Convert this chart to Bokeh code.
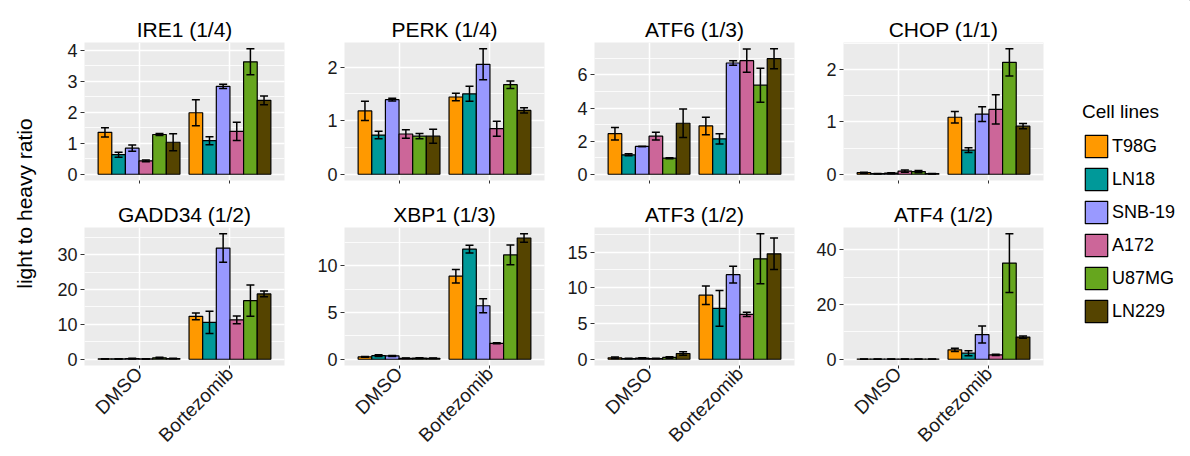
from math import pi
from bokeh.plotting import figure
from bokeh.models import (Range1d, FixedTicker, SingleIntervalTicker, Whisker, TeeHead,
                          ColumnDataSource, Legend, LegendItem, Label)
from bokeh.layouts import row, column
from bokeh.embed import file_html
from bokeh.resources import INLINE

conditions = ["DMSO", "Bortezomib"]
cell_lines = ["T98G", "LN18", "SNB-19", "A172", "U87MG", "LN229"]
colors = ["#FF9900", "#009999", "#9999FF", "#CC6699", "#66A61E", "#554400"]

titles = ["IRE1 (1/4)", "PERK (1/4)", "ATF6 (1/3)", "CHOP (1/1)",
          "GADD34 (1/2)", "XBP1 (1/3)", "ATF3 (1/2)", "ATF4 (1/2)"]
tick_steps = [1, 1, 2, 1, 10, 5, 5, 20]

# each list: DMSO (6 cell lines) then Bortezomib (6 cell lines)
ire1_mean = [1.35, 0.63, 0.84, 0.43, 1.28, 1.03, 1.98, 1.08, 2.83, 1.38, 3.62, 2.38]
ire1_err = [0.15, 0.08, 0.10, 0.03, 0.03, 0.27, 0.42, 0.13, 0.07, 0.29, 0.42, 0.14]
perk_mean = [1.18, 0.73, 1.39, 0.75, 0.71, 0.71, 1.44, 1.50, 2.05, 0.85, 1.67, 1.19]
perk_err = [0.18, 0.07, 0.025, 0.08, 0.05, 0.13, 0.07, 0.14, 0.29, 0.14, 0.07, 0.05]
atf6_mean = [2.45, 1.17, 1.68, 2.30, 0.97, 3.08, 2.92, 2.14, 6.72, 6.86, 5.38, 6.98]
atf6_err = [0.38, 0.06, 0.0, 0.23, 0.03, 0.86, 0.53, 0.31, 0.14, 0.70, 1.03, 0.60]
chop_mean = [0.03, 0.01, 0.02, 0.06, 0.05, 0.01, 1.09, 0.46, 1.15, 1.24, 2.14, 0.92]
chop_err = [0.01, 0.005, 0.01, 0.02, 0.02, 0.005, 0.11, 0.045, 0.14, 0.28, 0.26, 0.05]
gadd34_mean = [0.1, 0.1, 0.2, 0.1, 0.4, 0.2, 12.3, 10.6, 31.9, 11.3, 16.8, 18.75]
gadd34_err = [0.05, 0.05, 0.1, 0.05, 0.15, 0.05, 1.0, 3.2, 4.1, 1.1, 4.5, 0.8]
xbp1_mean = [0.25, 0.38, 0.35, 0.10, 0.12, 0.10, 8.88, 11.78, 5.72, 1.70, 11.16, 12.97]
xbp1_err = [0.05, 0.1, 0.05, 0.02, 0.03, 0.02, 0.72, 0.42, 0.76, 0.05, 1.05, 0.45]
atf3_mean = [0.20, 0.10, 0.15, 0.10, 0.25, 0.80, 8.96, 7.12, 11.84, 6.27, 14.06, 14.76]
atf3_err = [0.1, 0.05, 0.05, 0.05, 0.1, 0.25, 1.3, 2.5, 1.16, 0.3, 3.5, 2.2]
atf4_mean = [0.05, 0.05, 0.05, 0.05, 0.05, 0.05, 3.45, 2.2, 9.0, 1.6, 35.1, 8.1]
atf4_err = [0.02, 0.02, 0.02, 0.02, 0.02, 0.02, 0.6, 0.9, 3.1, 0.2, 10.7, 0.4]

means = [ire1_mean, perk_mean, atf6_mean, chop_mean, gadd34_mean, xbp1_mean, atf3_mean, atf4_mean]
errs = [ire1_err, perk_err, atf6_err, chop_err, gadd34_err, xbp1_err, atf3_err, atf4_err]

FONT = "Liberation Sans"
BAR_W = 0.15
FRAME_W, FRAME_H = 200, 138
LEFTS = [41, 40, 40, 40]
RIGHTS = [20, 10, 9, 10]
TOTAL_W, TOTAL_H = 1190, 456
YLAB_W = 43


def make_panel(k, bottom_row):
    mean, err = means[k], errs[k]
    n = len(cell_lines)
    xs = [c + 1 + (j - (n - 1) / 2) * BAR_W for c in range(len(conditions)) for j in range(n)]
    top_val = max(m + e for m, e in zip(mean, err))
    L, R = LEFTS[k % 4], RIGHTS[k % 4]
    T, B = (42, 10) if not bottom_row else (37, 91)
    fig = figure(width=L + FRAME_W + R, height=T + FRAME_H + B,
                 x_range=Range1d(0.4, len(conditions) + 0.6),
                 y_range=Range1d(-0.05 * top_val, 1.05 * top_val),
                 min_border_left=L, min_border_right=R, min_border_top=T, min_border_bottom=B,
                 output_backend="svg", toolbar_location=None)
    fig.background_fill_color = "#EBEBEB"
    fig.border_fill_color = "white"
    fig.outline_line_color = None

    fig.title.text = titles[k]
    fig.title.align = "center"
    fig.title.text_font = FONT
    fig.title.text_font_size = "21px"
    fig.title.text_font_style = "normal"
    fig.title.text_color = "black"
    fig.title.standoff = 4

    xt = [i + 1 for i in range(len(conditions))]
    fig.xaxis.ticker = FixedTicker(ticks=xt)
    if bottom_row:
        fig.xaxis.major_label_overrides = {t: c for t, c in zip(xt, conditions)}
    else:
        fig.xaxis.major_label_overrides = {t: "" for t in xt}
    fig.xaxis.major_label_orientation = pi / 4
    fig.yaxis.ticker = SingleIntervalTicker(interval=tick_steps[k], num_minor_ticks=2)
    for ax in (fig.xaxis, fig.yaxis):
        ax.axis_line_color = None
        ax.major_tick_in = 0
        ax.major_tick_out = 4
        ax.major_tick_line_color = "#333333"
        ax.minor_tick_line_color = None
        ax.major_label_text_font = FONT
        ax.major_label_text_color = "#1a1a1a"
        ax.major_label_standoff = 3
    fig.xaxis.major_tick_out = 3
    fig.xaxis.major_label_standoff = 2
    fig.yaxis.major_label_text_font_size = "18px"
    fig.xaxis.major_label_text_font_size = "19px"

    fig.xgrid.grid_line_color = "white"
    fig.xgrid.grid_line_width = 1.5
    fig.ygrid.grid_line_color = "white"
    fig.ygrid.grid_line_width = 1.5
    fig.ygrid.minor_grid_line_color = "white"
    fig.ygrid.minor_grid_line_width = 0.8

    src = ColumnDataSource(dict(
        x=xs, top=mean,
        lower=[m - e for m, e in zip(mean, err)],
        upper=[m + e for m, e in zip(mean, err)],
        color=colors * len(conditions)))
    fig.vbar(x="x", top="top", bottom=0, width=BAR_W, fill_color="color",
             line_color="black", line_width=1.2, source=src)
    fig.add_layout(Whisker(base="x", lower="lower", upper="upper", source=src, level="overlay",
                           line_color="black", line_width=1.5,
                           upper_head=TeeHead(size=8, line_color="black", line_width=1.5),
                           lower_head=TeeHead(size=8, line_color="black", line_width=1.5)))
    return fig


top = row([make_panel(k, False) for k in range(4)], spacing=0)
bot = row([make_panel(k, True) for k in range(4, 8)], spacing=0)
grid = column([top, bot], spacing=0)

yl = figure(width=YLAB_W, height=TOTAL_H, x_range=Range1d(0, YLAB_W), y_range=Range1d(0, TOTAL_H),
            min_border=0, x_axis_location=None, y_axis_location=None,
            output_backend="svg", toolbar_location=None)
yl.outline_line_color = None
yl.grid.visible = False
yl.add_layout(Label(x=24, y=TOTAL_H - 203, text="light to heavy ratio", angle=pi / 2,
                    text_align="center", text_baseline="middle",
                    text_font=FONT, text_font_size="21px", text_color="black"))

panels_w = sum(LEFTS) + sum(RIGHTS) + 4 * FRAME_W
lg_w = TOTAL_W - YLAB_W - panels_w
lg = figure(width=lg_w, height=TOTAL_H, x_range=Range1d(0, 1), y_range=Range1d(0, 1),
            min_border=0, x_axis_location=None, y_axis_location=None,
            output_backend="svg", toolbar_location=None)
lg.outline_line_color = None
lg.grid.visible = False
items = []
for name, c in zip(cell_lines, colors):
    # swatch renderer kept outside the visible range; only its legend glyph shows
    r = lg.vbar(x=[5], top=[5], bottom=[4], width=0.5, fill_color=c, line_color="black", line_width=1.2)
    items.append(LegendItem(label=name, renderers=[r]))
legend = Legend(items=items, location=(29, 131), title="Cell lines",
                title_text_font=FONT, title_text_font_size="19px", title_text_font_style="normal",
                title_text_color="black", title_standoff=9,
                label_text_font=FONT, label_text_font_size="18px", label_text_color="black",
                glyph_width=28, glyph_height=28, label_height=28, label_standoff=2,
                spacing=5, padding=0, margin=0,
                background_fill_alpha=0, border_line_color=None)
lg.add_layout(legend)

page = row([yl, grid, lg], spacing=0)
open("out.html", "w").write(file_html(page, INLINE))
